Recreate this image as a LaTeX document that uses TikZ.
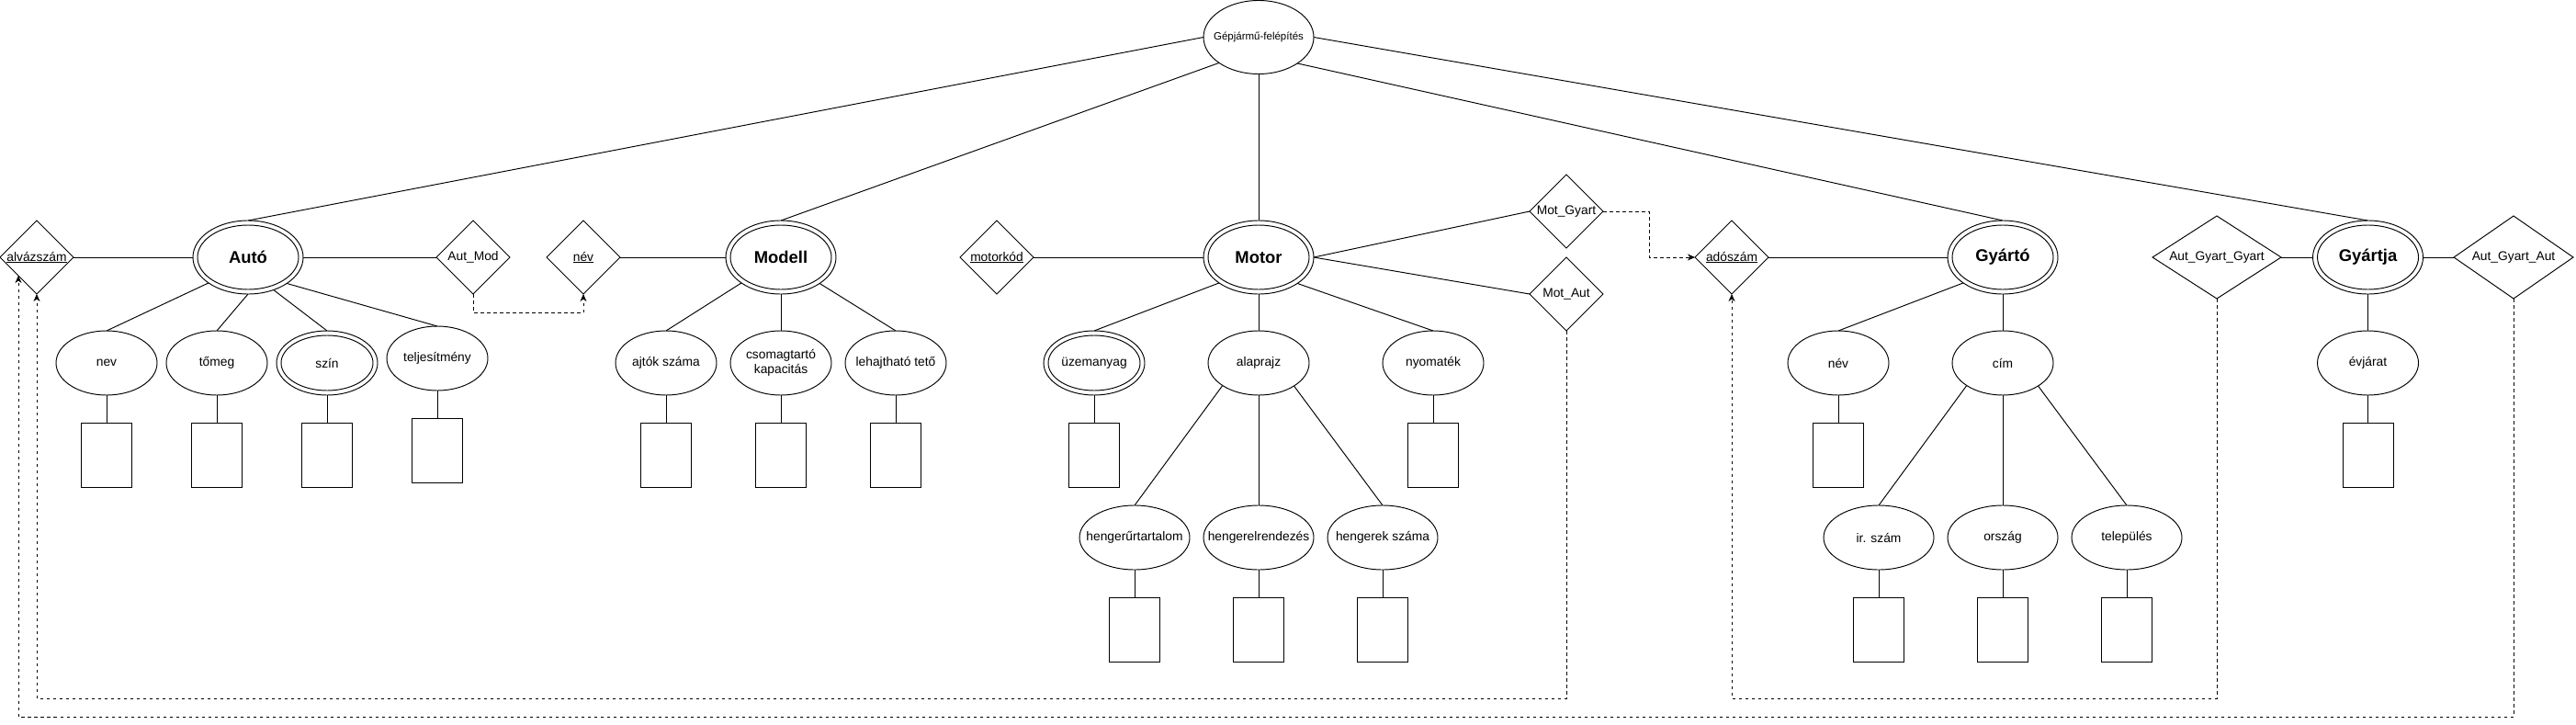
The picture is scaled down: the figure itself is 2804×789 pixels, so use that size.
\documentclass[tikz,border=0pt]{standalone}
\usepackage{fontspec}
\setmainfont{Liberation Sans}
\usetikzlibrary{shapes.geometric,arrows.meta,calc}
\newcommand\nbx[1]{\makebox[0pt]{#1}}
\begin{document}
\begin{tikzpicture}[x=1pt,y=-1pt,line width=0.95pt,
  every node/.style={inner sep=0pt,outer sep=0pt},
  base/.style={font=\fontsize{13.8}{16.5}\selectfont},
  ent/.style={ellipse,draw,minimum width=120pt,minimum height=80pt,
    font=\fontsize{18.4}{22}\selectfont\bfseries,
    path picture={\draw[line width=0.95pt] (path picture bounding box.center) ellipse [x radius=55pt,y radius=35pt];}},
  top/.style={ellipse,draw,minimum width=120pt,minimum height=80pt,font=\fontsize{11.5}{14}\selectfont},
  attr/.style={ellipse,draw,minimum width=110pt,minimum height=70pt,base},
  wattr/.style={ellipse,draw,minimum width=120pt,minimum height=70pt,base},
  mattr/.style={attr,
    path picture={\draw[line width=0.95pt] (path picture bounding box.center) ellipse [x radius=50pt,y radius=30pt];}},
  rel/.style={diamond,draw,minimum width=80pt,minimum height=80pt,base},
  bigrel/.style={diamond,draw,minimum height=90pt,base},
  dom/.style={rectangle,draw,minimum width=55pt,minimum height=70pt},
  fk/.style={dash pattern=on 3.5pt off 3.5pt,-{Stealth[length=8pt,width=7pt,inset=2.5pt]}},
]
\useasboundingbox (0,0) rectangle (2804,789);

% top
\node[top] (g) at (1370,40.5) {\nbx{Gépjármű-felépítés}};

% entities row
\node[rel] (alv) at (40,280) {\nbx{\underline{alvázszám}}};
\node[ent] (auto) at (270,280) {\nbx{Autó}};
\node[rel] (autmod) at (515,280) {\nbx{Aut\_Mod}};
\node[rel] (nevk) at (635,280) {\nbx{\underline{név}}};
\node[ent] (modell) at (850,280) {\nbx{Modell}};
\node[rel] (motork) at (1085,280) {\nbx{\underline{motorkód}}};
\node[ent] (motor) at (1370,280) {\nbx{Motor}};
\node[rel] (motgy) at (1705,230) {\nbx{Mot\_Gyart}};
\node[rel] (motaut) at (1705,320) {\nbx{Mot\_Aut}};
\node[rel] (adosz) at (1885,280) {\nbx{\underline{adószám}}};
\node[ent] (gyarto) at (2180,280) {\nbx{Gyártó}};
\node[bigrel,minimum width=140pt] (agg) at (2413,280) {\nbx{Aut\_Gyart\_Gyart}};
\node[ent] (gyartja) at (2577.5,280) {\nbx{Gyártja}};
\node[bigrel,minimum width=130pt] (aga) at (2736,280) {\nbx{Aut\_Gyart\_Aut}};

% Auto attributes
\node[attr] (nev) at (116,395) {\nbx{nev}};
\node[attr] (tomeg) at (236,395) {\nbx{tőmeg}};
\node[mattr] (szin) at (356,395) {\nbx{szín}};
\node[attr] (telj) at (476,390) {\nbx{teljesítmény}};
\node[dom] (dnev) at (116,495) {};
\node[dom] (dtomeg) at (236,495) {};
\node[dom] (dszin) at (356,495) {};
\node[dom] (dtelj) at (476,490) {};

% Modell attributes
\node[attr] (ajtok) at (725,395) {\nbx{ajtók száma}};
\node[attr] (csom) at (850,395) {\nbx{\begin{tabular}{@{}c@{}}csomagtartó\\kapacitás\end{tabular}}};
\node[attr] (lehaj) at (975,395) {\nbx{lehajtható tető}};
\node[dom] (dajtok) at (725,495) {};
\node[dom] (dcsom) at (850,495) {};
\node[dom] (dlehaj) at (975,495) {};

% Motor attributes
\node[mattr] (uzem) at (1191,395) {\nbx{üzemanyag}};
\node[attr] (alap) at (1370,395) {\nbx{alaprajz}};
\node[attr] (nyom) at (1560,395) {\nbx{nyomaték}};
\node[dom] (duzem) at (1191,495) {};
\node[dom] (dnyom) at (1560,495) {};
\node[wattr] (hur) at (1235,585) {\nbx{hengerűrtartalom}};
\node[wattr] (hel) at (1370,585) {\nbx{hengerelrendezés}};
\node[wattr] (hsz) at (1505,585) {\nbx{hengerek száma}};
\node[dom] (dhur) at (1235,685) {};
\node[dom] (dhel) at (1370,685) {};
\node[dom] (dhsz) at (1505,685) {};

% Gyarto attributes
\node[attr] (gnev) at (2001,395) {\nbx{név}};
\node[attr] (cim) at (2180,395) {\nbx{cím}};
\node[dom] (dgnev) at (2001,495) {};
\node[wattr] (irsz) at (2045,585) {\nbx{ir. szám}};
\node[wattr] (orsz) at (2180,585) {\nbx{ország}};
\node[wattr] (telep) at (2315,585) {\nbx{település}};
\node[dom] (dirsz) at (2045,685) {};
\node[dom] (dorsz) at (2180,685) {};
\node[dom] (dtelep) at (2315,685) {};

% Gyartja attributes
\node[attr] (evj) at (2577.5,395) {\nbx{évjárat}};
\node[dom] (devj) at (2577.5,495) {};

% top connectors
\draw (g.west) -- (auto.north);
\draw (g.213.7) -- (modell.north);
\draw (g.south) -- (motor.north);
\draw (g.326.3) -- (gyarto.north);
\draw (g.east) -- (gyartja.north);

% Auto
\draw (alv.east) -- (auto.west);
\draw (auto.east) -- (autmod.west);
\draw (auto.213.7) -- (nev.north);
\draw (auto.south) -- (tomeg.north);
\draw (auto.308.4) -- (szin.north);
\draw (auto.326.3) -- (telj.north);
\draw (nev.south) -- (dnev.north);
\draw (tomeg.south) -- (dtomeg.north);
\draw (szin.south) -- (dszin.north);
\draw (telj.south) -- (dtelj.north);

% Modell
\draw (nevk.east) -- (modell.west);
\draw (modell.213.7) -- (ajtok.north);
\draw (modell.south) -- (csom.north);
\draw (modell.326.3) -- (lehaj.north);
\draw (ajtok.south) -- (dajtok.north);
\draw (csom.south) -- (dcsom.north);
\draw (lehaj.south) -- (dlehaj.north);

% Motor
\draw (motork.east) -- (motor.west);
\draw (motor.east) -- (motgy.west);
\draw (motor.east) -- (motaut.west);
\draw (motor.213.7) -- (uzem.north);
\draw (motor.south) -- (alap.north);
\draw (motor.326.3) -- (nyom.north);
\draw (uzem.south) -- (duzem.north);
\draw (nyom.south) -- (dnyom.north);
\draw (alap.212.4) -- (hur.north);
\draw (alap.south) -- (hel.north);
\draw (alap.327.6) -- (hsz.north);
\draw (hur.south) -- (dhur.north);
\draw (hel.south) -- (dhel.north);
\draw (hsz.south) -- (dhsz.north);

% Gyarto
\draw (adosz.east) -- (gyarto.west);
\draw (gyarto.213.7) -- (gnev.north);
\draw (gyarto.south) -- (cim.north);
\draw (gnev.south) -- (dgnev.north);
\draw (cim.212.4) -- (irsz.north);
\draw (cim.south) -- (orsz.north);
\draw (cim.327.6) -- (telep.north);
\draw (irsz.south) -- (dirsz.north);
\draw (orsz.south) -- (dorsz.north);
\draw (telep.south) -- (dtelep.north);

% Gyartja
\draw (agg.east) -- (gyartja.west);
\draw (gyartja.east) -- (aga.west);
\draw (gyartja.south) -- (evj.north);
\draw (evj.south) -- (devj.north);

% foreign keys (dashed)
\coordinate (alvl) at ($(alv.west)!0.5!(alv.south)$);
\draw[fk] (autmod.south) -- ++(0,20) -| (nevk.south);
\draw[fk] (motgy.east) -- ++(50,0) |- (adosz.west);
\draw[fk] (motaut.south) -- ++(0,400) -| (alv.south);
\draw[fk] (agg.south) -- ++(0,435) -| (adosz.south);
\draw[fk] (aga.south) -- ++(0,455) -| (alvl);
\end{tikzpicture}
\end{document}
